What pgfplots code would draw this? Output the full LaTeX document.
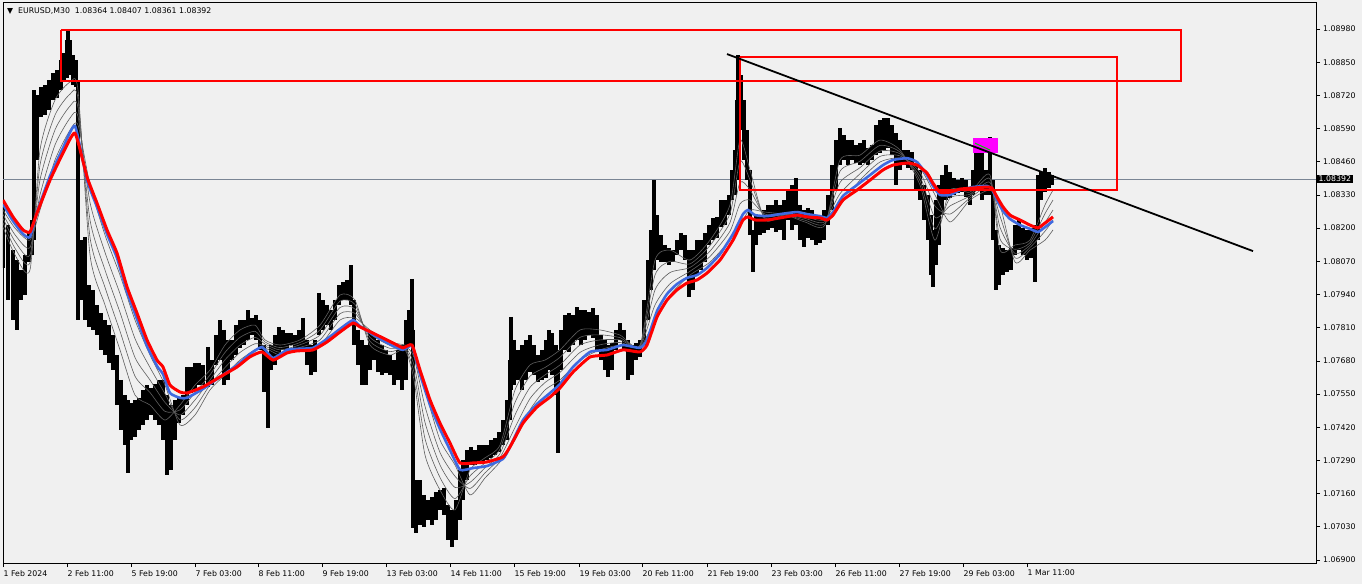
\documentclass[border=0pt]{standalone}
\usepackage{pgfplots}
\pgfplotsset{compat=1.18}
\usepackage{pgfplotstable}
\usepackage{fontspec}
\setmainfont{DejaVu Sans}
\definecolor{bg}{HTML}{F0F0F0}
\definecolor{mablue}{HTML}{3F6AE0}
\definecolor{fangray}{HTML}{5E5E5E}
\definecolor{pricegray}{HTML}{7A8594}
\definecolor{mag}{HTML}{FF00FF}

\pgfplotstableread{
x hi lo
3 1.08283 1.08044
8 1.08212 1.07918
13 1.08114 1.07840
17 1.08075 1.07801
21 1.08036 1.07918
25 1.08094 1.07938
29 1.08181 1.08067
32 1.08232 1.08094
34 1.08741 1.08153
37 1.08721 1.08467
41 1.08753 1.08636
45 1.08760 1.08643
49 1.08780 1.08663
53 1.08807 1.08702
57 1.08819 1.08710
61 1.08858 1.08741
64 1.08886 1.08780
67 1.08937 1.08788
68 1.08976 1.08858
70 1.08937 1.08799
73 1.08878 1.08760
76 1.08858 1.08753
78 1.08780 1.07840
81 1.08153 1.07918
85 1.08166 1.07840
89 1.07977 1.07813
93 1.07958 1.07801
97 1.07898 1.07781
101 1.07867 1.07723
105 1.07840 1.07703
109 1.07820 1.07671
113 1.07781 1.07644
117 1.07703 1.07507
121 1.07605 1.07409
125 1.07546 1.07350
128 1.07527 1.07241
131 1.07515 1.07370
135 1.07527 1.07382
139 1.07535 1.07409
143 1.07566 1.07428
147 1.07585 1.07448
151 1.07574 1.07468
155 1.07589 1.07448
159 1.07605 1.07428
163 1.07605 1.07370
167 1.07546 1.07233
171 1.07507 1.07253
175 1.07527 1.07370
179 1.07539 1.07436
183 1.07546 1.07468
187 1.07656 1.07507
191 1.07656 1.07554
195 1.07671 1.07566
199 1.07671 1.07585
203 1.07663 1.07585
208 1.07735 1.07578
212 1.07683 1.07585
216 1.07781 1.07663
220 1.07840 1.07683
224 1.07801 1.07585
228 1.07762 1.07605
232 1.07762 1.07683
236 1.07820 1.07703
240 1.07840 1.07731
244 1.07840 1.07742
248 1.07879 1.07762
252 1.07848 1.07781
256 1.07859 1.07762
260 1.07840 1.07723
264 1.07742 1.07558
268 1.07703 1.07417
271 1.07742 1.07644
275 1.07781 1.07663
279 1.07813 1.07703
283 1.07801 1.07723
287 1.07789 1.07723
291 1.07789 1.07742
295 1.07781 1.07731
299 1.07801 1.07715
303 1.07848 1.07723
307 1.07762 1.07663
311 1.07742 1.07625
315 1.07762 1.07636
319 1.07946 1.07781
323 1.07918 1.07801
327 1.07898 1.07820
331 1.07879 1.07801
335 1.07918 1.07840
339 1.07977 1.07898
343 1.07989 1.07918
347 1.07997 1.07918
351 1.08055 1.07898
354 1.07918 1.07742
358 1.07801 1.07663
362 1.07762 1.07585
366 1.07742 1.07585
370 1.07789 1.07644
374 1.07781 1.07683
378 1.07762 1.07636
382 1.07742 1.07625
386 1.07723 1.07632
390 1.07703 1.07625
394 1.07683 1.07585
398 1.07723 1.07605
402 1.07742 1.07566
406 1.07840 1.07605
409 1.07879 1.07742
412 1.08001 1.07781
413 1.07801 1.07026
416 1.07213 1.07006
420 1.07213 1.07037
424 1.07155 1.07030
428 1.07135 1.07057
432 1.07147 1.07037
436 1.07166 1.07057
440 1.07174 1.07096
444 1.07182 1.07076
448 1.07115 1.06978
452 1.07096 1.06951
456 1.07135 1.06978
460 1.07253 1.07057
463 1.07292 1.07135
467 1.07331 1.07213
471 1.07343 1.07272
475 1.07331 1.07272
479 1.07350 1.07284
483 1.07350 1.07284
487 1.07350 1.07292
491 1.07370 1.07300
495 1.07378 1.07311
499 1.07401 1.07323
503 1.07448 1.07350
507 1.07527 1.07370
510 1.07683 1.07448
511 1.07852 1.07566
514 1.07762 1.07585
518 1.07723 1.07605
522 1.07742 1.07566
526 1.07762 1.07605
530 1.07781 1.07636
534 1.07742 1.07625
538 1.07703 1.07597
542 1.07723 1.07605
546 1.07762 1.07613
549 1.07801 1.07644
552 1.07789 1.07625
556 1.07742 1.07546
558 1.07723 1.07319
561 1.07801 1.07644
565 1.07859 1.07723
569 1.07867 1.07715
573 1.07859 1.07742
577 1.07891 1.07762
581 1.07879 1.07742
585 1.07879 1.07762
589 1.07871 1.07781
593 1.07887 1.07770
597 1.07859 1.07723
601 1.07781 1.07683
605 1.07762 1.07644
608 1.07742 1.07617
612 1.07750 1.07644
616 1.07801 1.07723
620 1.07828 1.07762
624 1.07801 1.07723
628 1.07762 1.07605
632 1.07742 1.07625
636 1.07750 1.07683
640 1.07762 1.07695
644 1.07918 1.07742
648 1.08075 1.07840
651 1.08193 1.07958
654 1.08388 1.08036
657 1.08251 1.08075
661 1.08173 1.08067
665 1.08134 1.08067
669 1.08122 1.08055
673 1.08114 1.08067
677 1.08153 1.08094
681 1.08181 1.08114
685 1.08173 1.08075
689 1.08114 1.07930
693 1.08114 1.07958
697 1.08153 1.08016
701 1.08153 1.08036
705 1.08181 1.08067
709 1.08212 1.08134
713 1.08240 1.08153
717 1.08244 1.08161
721 1.08310 1.08204
725 1.08310 1.08212
729 1.08330 1.08251
732 1.08428 1.08310
735 1.08506 1.08330
737 1.08702 1.08388
738 1.08878 1.08545
741 1.08799 1.08584
744 1.08702 1.08467
747 1.08584 1.08388
750 1.08428 1.08173
753 1.08193 1.08028
756 1.08251 1.08134
760 1.08251 1.08173
764 1.08271 1.08181
768 1.08291 1.08193
772 1.08291 1.08201
776 1.08310 1.08185
780 1.08291 1.08193
784 1.08310 1.08153
788 1.08349 1.08232
792 1.08369 1.08193
796 1.08396 1.08212
800 1.08291 1.08153
804 1.08271 1.08126
808 1.08279 1.08161
812 1.08271 1.08153
816 1.08251 1.08134
820 1.08240 1.08142
824 1.08271 1.08153
828 1.08330 1.08212
832 1.08447 1.08271
836 1.08545 1.08349
840 1.08592 1.08447
844 1.08564 1.08467
848 1.08545 1.08447
852 1.08545 1.08467
856 1.08526 1.08455
860 1.08533 1.08447
864 1.08545 1.08455
868 1.08514 1.08447
872 1.08526 1.08467
876 1.08604 1.08486
880 1.08623 1.08494
884 1.08631 1.08506
888 1.08631 1.08514
892 1.08604 1.08486
896 1.08572 1.08369
900 1.08545 1.08428
904 1.08506 1.08447
908 1.08506 1.08435
912 1.08498 1.08428
916 1.08447 1.08349
920 1.08428 1.08310
924 1.08369 1.08232
928 1.08330 1.08153
931 1.08251 1.08016
933 1.08193 1.07969
936 1.08310 1.08055
939 1.08369 1.08134
942 1.08408 1.08251
946 1.08447 1.08310
950 1.08420 1.08318
954 1.08396 1.08330
958 1.08388 1.08337
962 1.08396 1.08341
966 1.08388 1.08322
970 1.08357 1.08291
973 1.08428 1.08330
976 1.08506 1.08349
979 1.08526 1.08369
982 1.08506 1.08310
986 1.08428 1.08330
990 1.08557 1.08330
993 1.08388 1.08153
996 1.08193 1.07958
999 1.08134 1.07977
1003 1.08122 1.08016
1007 1.08114 1.08028
1011 1.08122 1.08036
1015 1.08212 1.08094
1019 1.08232 1.08114
1023 1.08201 1.08094
1027 1.08193 1.08075
1031 1.08201 1.08083
1035 1.08212 1.07989
1038 1.08408 1.08153
1041 1.08420 1.08310
1045 1.08435 1.08341
1049 1.08420 1.08357
1052 1.08408 1.08369
}\band

\pgfplotstableread{
x red blue
3 1.08310 1.08294
13 1.08244 1.08228
23 1.08193 1.08177
30 1.08185 1.08165
37 1.08259 1.08263
50 1.08388 1.08404
63 1.08494 1.08514
75 1.08572 1.08600
87 1.08401 1.08388
97 1.08298 1.08283
107 1.08193 1.08177
117 1.08102 1.08083
127 1.07970 1.07950
137 1.07867 1.07844
147 1.07762 1.07738
157 1.07683 1.07660
163 1.07656 1.07628
170 1.07585 1.07554
180 1.07558 1.07535
187 1.07554 1.07535
203 1.07578 1.07570
220 1.07617 1.07617
237 1.07656 1.07663
250 1.07696 1.07707
262 1.07715 1.07734
273 1.07683 1.07691
287 1.07711 1.07723
297 1.07719 1.07727
313 1.07723 1.07731
327 1.07754 1.07766
340 1.07793 1.07805
353 1.07828 1.07840
360 1.07813 1.07816
377 1.07781 1.07773
393 1.07750 1.07738
403 1.07731 1.07723
412 1.07742 1.07738
420 1.07644 1.07628
430 1.07527 1.07507
440 1.07436 1.07413
450 1.07358 1.07331
460 1.07280 1.07253
473 1.07280 1.07260
487 1.07284 1.07268
503 1.07304 1.07296
510 1.07343 1.07343
523 1.07436 1.07448
537 1.07499 1.07511
550 1.07538 1.07554
560 1.07574 1.07589
573 1.07636 1.07656
590 1.07695 1.07715
607 1.07703 1.07723
623 1.07723 1.07742
640 1.07715 1.07731
647 1.07742 1.07762
657 1.07852 1.07875
667 1.07918 1.07942
677 1.07958 1.07981
687 1.07985 1.08005
697 1.07997 1.08016
707 1.08024 1.08044
720 1.08075 1.08098
733 1.08153 1.08177
743 1.08232 1.08255
748 1.08244 1.08271
755 1.08232 1.08251
767 1.08232 1.08247
780 1.08240 1.08255
797 1.08251 1.08263
807 1.08244 1.08255
820 1.08240 1.08247
827 1.08232 1.08240
833 1.08251 1.08263
843 1.08310 1.08326
857 1.08349 1.08369
870 1.08388 1.08408
883 1.08428 1.08447
893 1.08447 1.08467
907 1.08455 1.08474
917 1.08447 1.08459
927 1.08416 1.08408
933 1.08376 1.08365
940 1.08341 1.08330
950 1.08341 1.08330
960 1.08353 1.08349
973 1.08357 1.08361
987 1.08361 1.08365
992 1.08357 1.08353
997 1.08322 1.08310
1003 1.08283 1.08267
1010 1.08251 1.08236
1020 1.08232 1.08212
1030 1.08212 1.08197
1038 1.08201 1.08185
1045 1.08220 1.08204
1053 1.08244 1.08228
}\ma

\pgfplotstableread{
x f1 m1 m2 m3 s
3 1.08204 1.08221 1.08238 1.08254 1.08271
15 1.08095 1.08121 1.08148 1.08174 1.08200
30 1.08036 1.08065 1.08095 1.08124 1.08153
40 1.08506 1.08447 1.08389 1.08330 1.08271
55 1.08702 1.08643 1.08585 1.08526 1.08467
70 1.08772 1.08725 1.08678 1.08631 1.08584
78 1.08741 1.08707 1.08673 1.08638 1.08604
90 1.08095 1.08164 1.08232 1.08301 1.08369
105 1.07899 1.07968 1.08036 1.08105 1.08173
120 1.07723 1.07796 1.07870 1.07943 1.08016
135 1.07546 1.07620 1.07693 1.07767 1.07840
150 1.07507 1.07556 1.07605 1.07654 1.07703
165 1.07448 1.07482 1.07517 1.07551 1.07585
180 1.07507 1.07488 1.07468 1.07449 1.07429
195 1.07585 1.07556 1.07527 1.07497 1.07468
210 1.07644 1.07625 1.07605 1.07586 1.07566
225 1.07742 1.07713 1.07684 1.07654 1.07625
240 1.07801 1.07772 1.07742 1.07713 1.07683
255 1.07820 1.07796 1.07772 1.07747 1.07723
265 1.07762 1.07754 1.07746 1.07738 1.07730
280 1.07742 1.07732 1.07723 1.07713 1.07703
300 1.07762 1.07752 1.07743 1.07733 1.07723
320 1.07820 1.07801 1.07781 1.07762 1.07742
340 1.07938 1.07914 1.07889 1.07865 1.07840
355 1.07918 1.07901 1.07883 1.07866 1.07848
370 1.07742 1.07757 1.07772 1.07786 1.07801
390 1.07703 1.07716 1.07729 1.07741 1.07754
405 1.07723 1.07728 1.07733 1.07737 1.07742
414 1.07605 1.07635 1.07664 1.07694 1.07723
425 1.07311 1.07375 1.07439 1.07502 1.07566
440 1.07174 1.07223 1.07272 1.07321 1.07370
455 1.07096 1.07140 1.07184 1.07228 1.07272
470 1.07253 1.07229 1.07204 1.07180 1.07155
485 1.07300 1.07280 1.07261 1.07241 1.07221
500 1.07350 1.07334 1.07317 1.07301 1.07284
515 1.07566 1.07517 1.07468 1.07419 1.07370
530 1.07664 1.07620 1.07576 1.07532 1.07488
545 1.07683 1.07654 1.07625 1.07595 1.07566
560 1.07723 1.07694 1.07664 1.07635 1.07605
580 1.07801 1.07772 1.07742 1.07713 1.07683
600 1.07801 1.07782 1.07762 1.07743 1.07723
620 1.07781 1.07771 1.07762 1.07752 1.07742
640 1.07742 1.07740 1.07738 1.07736 1.07734
655 1.08075 1.08016 1.07958 1.07899 1.07840
670 1.08114 1.08070 1.08026 1.07982 1.07938
690 1.08075 1.08060 1.08046 1.08031 1.08016
710 1.08153 1.08132 1.08110 1.08089 1.08067
730 1.08291 1.08257 1.08222 1.08188 1.08153
740 1.08545 1.08462 1.08379 1.08295 1.08212
750 1.08428 1.08389 1.08350 1.08310 1.08271
765 1.08232 1.08240 1.08248 1.08255 1.08263
785 1.08251 1.08252 1.08253 1.08254 1.08255
805 1.08224 1.08231 1.08238 1.08244 1.08251
825 1.08212 1.08219 1.08226 1.08233 1.08240
840 1.08467 1.08423 1.08379 1.08335 1.08291
860 1.08486 1.08462 1.08437 1.08413 1.08388
880 1.08545 1.08524 1.08502 1.08481 1.08459
900 1.08506 1.08498 1.08491 1.08483 1.08475
920 1.08369 1.08386 1.08402 1.08419 1.08435
935 1.08153 1.08197 1.08242 1.08286 1.08330
950 1.08349 1.08318 1.08287 1.08255 1.08224
970 1.08341 1.08333 1.08326 1.08318 1.08310
990 1.08408 1.08393 1.08379 1.08364 1.08349
1000 1.08114 1.08158 1.08203 1.08247 1.08291
1015 1.08134 1.08117 1.08101 1.08084 1.08067
1030 1.08153 1.08143 1.08134 1.08124 1.08114
1045 1.08291 1.08257 1.08222 1.08188 1.08153
1053 1.08349 1.08310 1.08271 1.08232 1.08193
}\fan

\begin{document}
\begin{tikzpicture}[font=\fontsize{7.8}{9}\selectfont]
\useasboundingbox (-3pt,-21pt) rectangle (1359pt,563pt);
\fill[bg] (-3pt,-21pt) rectangle (1359pt,563pt);
\begin{axis}[
  at={(0pt,0pt)}, anchor=south west,
  scale only axis, width=1313pt, height=561pt,
  xmin=3, xmax=1316, ymin=1.06888, ymax=1.09086,
  axis line style={black, line width=0.8pt},
  tick style={black, line width=0.6pt},
  tick align=outside, major tick length=4pt,
  xtick pos=left, ytick pos=right, yticklabel pos=right,
  xtick={3,67,131,195,258,322,386,450,514,579,642,707,771,835,899,963,1027},
  xticklabels={1 Feb 2024,2 Feb 11:00,5 Feb 19:00,7 Feb 03:00,8 Feb 11:00,9 Feb 19:00,13 Feb 03:00,14 Feb 11:00,15 Feb 19:00,19 Feb 03:00,20 Feb 11:00,21 Feb 19:00,23 Feb 03:00,26 Feb 11:00,27 Feb 19:00,29 Feb 03:00,1 Mar 11:00},
  ytick={1.069,1.0703,1.0716,1.0729,1.0742,1.0755,1.0768,1.0781,1.0794,1.0807,1.082,1.0833,1.0846,1.0859,1.0872,1.0885,1.0898},
  yticklabels={1.06900,1.07030,1.07160,1.07290,1.07420,1.07550,1.07680,1.07810,1.07940,1.08070,1.08200,1.08330,1.08460,1.08590,1.08720,1.08850,1.08980},
  xticklabel style={anchor=north west, inner sep=0pt, xshift=0.5pt, yshift=-3pt},
  yticklabel style={anchor=west, inner sep=0pt, xshift=3pt},
]
% current price line
\addplot[pricegray, line width=0.7pt] coordinates {(3,1.08392) (1316,1.08392)};
% price bars (high-low)
\addplot[draw=none, mark=none, error bars/.cd, y dir=minus, y explicit, error mark=none,
  error bar style={black, line width=3.4pt}]
  table[x=x, y=hi, y error expr=\thisrow{hi}-\thisrow{lo}] {\band};
% moving-average fan
\addplot[fangray, line width=0.6pt, smooth, tension=0.4] table[x=x, y=f1] {\fan};
\addplot[fangray, line width=0.6pt, smooth, tension=0.4] table[x=x, y=m1] {\fan};
\addplot[fangray, line width=0.6pt, smooth, tension=0.4] table[x=x, y=m2] {\fan};
\addplot[fangray, line width=0.6pt, smooth, tension=0.4] table[x=x, y=m3] {\fan};
\addplot[fangray, line width=0.6pt, smooth, tension=0.4] table[x=x, y=s] {\fan};
\addplot[mablue, line width=2.6pt, smooth, tension=0.3] table[x=x, y=blue] {\ma};
\addplot[red, line width=3pt, smooth, tension=0.3] table[x=x, y=red] {\ma};
% magenta marker
\addplot[fill=mag, draw=none] coordinates {(973,1.08553) (998,1.08553) (998,1.08494) (973,1.08494)};
\addplot[green!80!black, line width=1pt] coordinates {(975,1.08533) (990,1.08506)};
% rectangles
\addplot[red, line width=1.6pt, line join=miter] coordinates {(61,1.08976) (1181,1.08976) (1181,1.08776) (61,1.08776) (61,1.08976)};
\addplot[red, line width=1.6pt, line join=miter] coordinates {(740,1.08870) (1117,1.08870) (1117,1.08349) (740,1.08349) (740,1.08870)};
% trend line
\addplot[black, line width=1.8pt] coordinates {(727,1.08882) (1253,1.08110)};
\end{axis}
\node[anchor=west, fill=black, text=white, inner xsep=2pt, inner ysep=1pt] at (1313.5pt,384pt) {1.08392};
\node[anchor=west, inner sep=0pt] at (4pt,552pt) {▼\ \ EURUSD,M30\ \ 1.08364 1.08407 1.08361 1.08392};
\end{tikzpicture}
\end{document}
